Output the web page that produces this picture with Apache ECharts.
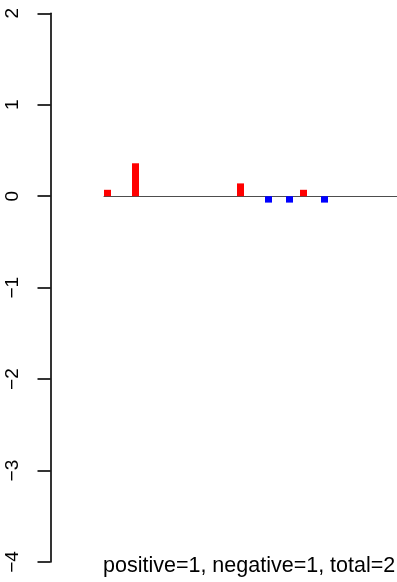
<!DOCTYPE html>
<html><head><meta charset="utf-8">
<script src="https://cdn.jsdelivr.net/npm/echarts@6/dist/echarts.min.js"></script>
<style>html,body{margin:0;padding:0;background:#fff}#c{width:397px;height:582px}</style>
</head><body><div id="c"></div>
<script>
// bar positions (index along the x axis) and values
const positions = [0, 4, 19, 23, 26, 28, 31];
const values = [0.07, 0.36, 0.14, -0.07, -0.07, 0.07, -0.07];
const yTicks = [-4, -3, -2, -1, 0, 1, 2];
const caption = 'positive=1, negative=1, total=2';

const chart = echarts.init(document.getElementById('c'), null, {renderer: 'canvas'});
const FONT = '"Liberation Sans", Arial, sans-serif';
chart.setOption({
  animation: false,
  backgroundColor: '#ffffff',
  grid: {left: 104, right: 0, top: 13.3, bottom: 20, containLabel: false},
  xAxis: {
    type: 'value', min: -0.5, max: -0.5 + 293 / 7,
    axisLine: {show: true, onZero: true, lineStyle: {color: '#4d4d4d', width: 1}},
    axisTick: {show: false}, axisLabel: {show: false}, splitLine: {show: false}
  },
  yAxis: {
    type: 'value', min: yTicks[0], max: yTicks[yTicks.length - 1], interval: 1,
    offset: 53.5,
    axisLine: {show: true, onZero: false, lineStyle: {color: '#000', width: 1.6}},
    axisTick: {show: true, length: 13, lineStyle: {color: '#000', width: 1.6}},
    axisLabel: {
      rotate: 90, margin: 28, fontSize: 19, color: '#000', fontFamily: FONT,
      formatter: v => String(v).replace('-', '\u2212')
    },
    splitLine: {show: false}
  },
  series: [{
    type: 'bar', barWidth: 7,
    data: positions.map((p, i) => ({
      value: [p, values[i]],
      itemStyle: {color: values[i] >= 0 ? '#ff0000' : '#0000ff'}
    }))
  }],
  graphic: [{
    type: 'text', x: 103, y: 566.5,
    style: {text: caption, fontSize: 21.5, fill: '#000', fontFamily: FONT, verticalAlign: 'middle'}
  }]
});
</script></body></html>
